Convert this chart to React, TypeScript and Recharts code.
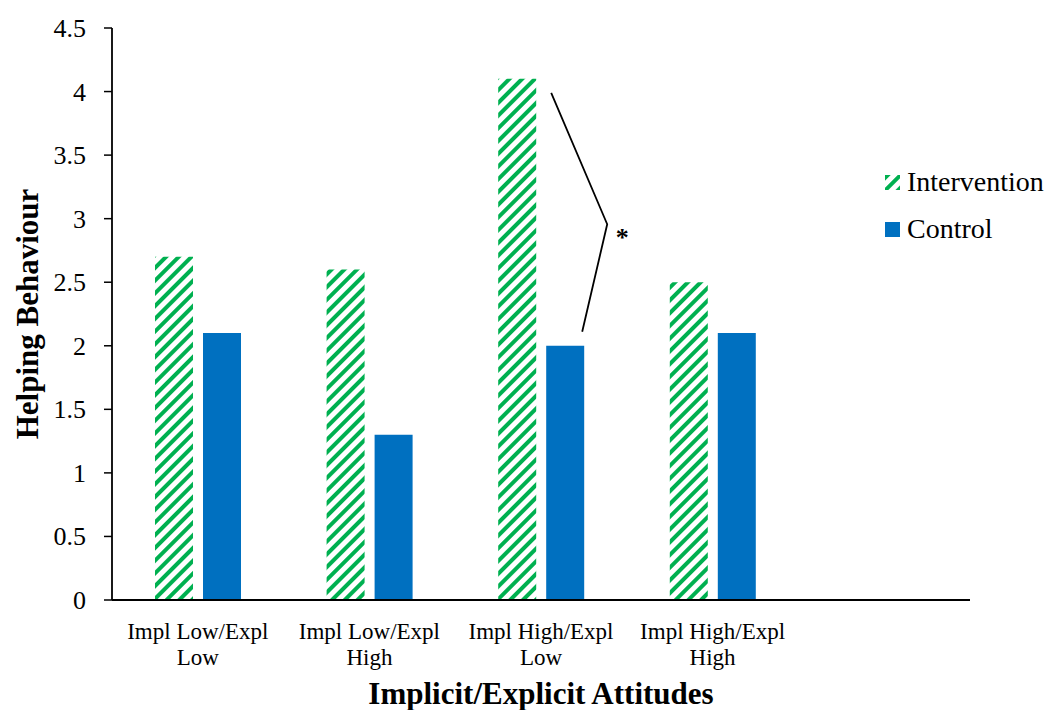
import React from 'react';
import { BarChart, Bar, XAxis, YAxis, LabelList } from 'recharts';

const categories = ['Impl Low/Expl Low', 'Impl Low/Expl High', 'Impl High/Expl Low', 'Impl High/Expl High', ''];
const intervention = [2.7, 2.6, 4.1, 2.5, null];
const control = [2.1, 1.3, 2.0, 2.1, null];
const yTicks = [0, 0.5, 1, 1.5, 2, 2.5, 3, 3.5, 4, 4.5];
const seriesNames = ['Intervention', 'Control'];
const significantIndex = 2;
const significanceMark = '*';

const GREEN = '#00B050';
const BLUE = '#0070C0';
const FONT = "'Liberation Serif', 'Times New Roman', serif";

const data = categories.map((name, i) => ({
  name,
  intervention: intervention[i],
  control: control[i],
}));

const CategoryTick = (props: any) => {
  const { x, y, payload } = props;
  const label: string = payload.value || '';
  const cut = label.lastIndexOf(' ');
  const lines = cut > 0 ? [label.slice(0, cut), label.slice(cut + 1)] : [label];
  return (
    <text x={x} y={y} textAnchor="middle" style={{ fontFamily: FONT, fontSize: 23 }} fill="#000">
      {lines.map((l, i) => (
        <tspan key={i} x={x} dy={i === 0 ? 31 : 26}>{l}</tspan>
      ))}
    </text>
  );
};

const ValueTick = (props: any) => {
  const { x, y, payload } = props;
  return (
    <text x={x} y={y} dy={9} textAnchor="end" style={{ fontFamily: FONT, fontSize: 26 }} fill="#000">
      {payload.value}
    </text>
  );
};

// bracket + asterisk between the two bars of the significant group
const Bracket = (props: any) => {
  const { x, y, width, height, index } = props;
  if (index !== significantIndex) return null;
  const bx = Number(x), by = Number(y), bw = Number(width), bh = Number(height);
  const v = control[index] as number;
  const pxPerUnit = bh / v;
  const base = by + bh;
  const topVal = (intervention[index] as number) - 0.11;
  const endVal = v + 0.11;
  const midVal = endVal + 0.45 * (topVal - endVal);
  const p1 = [bx + 5, base - topVal * pxPerUnit];
  const p2 = [bx + bw + 23, base - midVal * pxPerUnit];
  const p3 = [bx + bw - 2, base - endVal * pxPerUnit];
  return (
    <g>
      <polyline
        points={`${p1[0]},${p1[1]} ${p2[0]},${p2[1]} ${p3[0]},${p3[1]}`}
        fill="none"
        stroke="#000"
        strokeWidth={1.8}
      />
      <text x={p2[0] + 15} y={p2[1] + 22} textAnchor="middle" style={{ fontFamily: FONT, fontSize: 26, fontWeight: 'bold' }} fill="#000">
        {significanceMark}
      </text>
    </g>
  );
};

const YTitle = (props: any) => {
  const { viewBox } = props;
  const cy = viewBox.y + viewBox.height / 2;
  return (
    <text x={38} y={cy} transform={`rotate(-90, 38, ${cy})`} textAnchor="middle" style={{ fontFamily: FONT, fontSize: 31, fontWeight: 'bold' }} fill="#000">
      Helping Behaviour
    </text>
  );
};

const XTitle = (props: any) => {
  const { viewBox } = props;
  const cx = viewBox.x + viewBox.width / 2;
  return (
    <text x={cx} y={704} textAnchor="middle" style={{ fontFamily: FONT, fontSize: 31, fontWeight: 'bold' }} fill="#000">
      Implicit/Explicit Attitudes
    </text>
  );
};

const LegendMarker = ({ hatched }: { hatched: boolean }) => (
  <svg width={15} height={15} style={{ display: 'block' }}>
    <defs>
      <pattern id="hatchLegend" patternUnits="userSpaceOnUse" width={9} height={9} patternTransform="rotate(45)">
        <rect x={0} y={0} width={4} height={9} fill={GREEN} />
      </pattern>
    </defs>
    <rect x={0} y={0} width={15} height={15} fill={hatched ? 'url(#hatchLegend)' : BLUE} />
  </svg>
);

export default function App() {
  return (
    <div style={{ position: 'absolute', left: 0, top: 0, width: 1052, height: 710, background: '#fff', fontFamily: FONT }}>
      <BarChart
        width={1052}
        height={710}
        data={data}
        margin={{ top: 28, right: 82, left: 0, bottom: 0 }}
        barGap={10}
        barSize={38}
      >
        <defs>
          <pattern id="hatch" patternUnits="userSpaceOnUse" width={9} height={9} patternTransform="rotate(45)">
            <rect x={0} y={0} width={4} height={9} fill={GREEN} />
          </pattern>
        </defs>
        <XAxis
          dataKey="name"
          height={110}
          axisLine={{ stroke: '#000', strokeWidth: 1.8 }}
          tickLine={false}
          interval={0}
          tick={<CategoryTick />}
          label={<XTitle />}
        />
        <YAxis
          width={112}
          domain={[0, 4.5]}
          ticks={yTicks}
          interval={0}
          axisLine={{ stroke: '#000', strokeWidth: 1.8 }}
          tickLine={{ stroke: '#000', strokeWidth: 1.5 }}
          tickSize={8}
          tickMargin={18}
          tick={<ValueTick />}
          label={<YTitle />}
        />
        <Bar dataKey="intervention" name={seriesNames[0]} fill="url(#hatch)" isAnimationActive={false} />
        <Bar dataKey="control" name={seriesNames[1]} fill={BLUE} isAnimationActive={false}>
          <LabelList dataKey="control" content={<Bracket />} />
        </Bar>
      </BarChart>
      {seriesNames.map((n, i) => (
        <div
          key={n}
          style={{
            position: 'absolute',
            left: 885,
            top: i === 0 ? 166 : 213,
            height: 32,
            display: 'flex',
            alignItems: 'center',
            fontFamily: FONT,
            fontSize: 28,
            color: '#000',
            whiteSpace: 'nowrap',
          }}
        >
          <LegendMarker hatched={i === 0} />
          <span style={{ marginLeft: 7, lineHeight: '32px' }}>{n}</span>
        </div>
      ))}
    </div>
  );
}
